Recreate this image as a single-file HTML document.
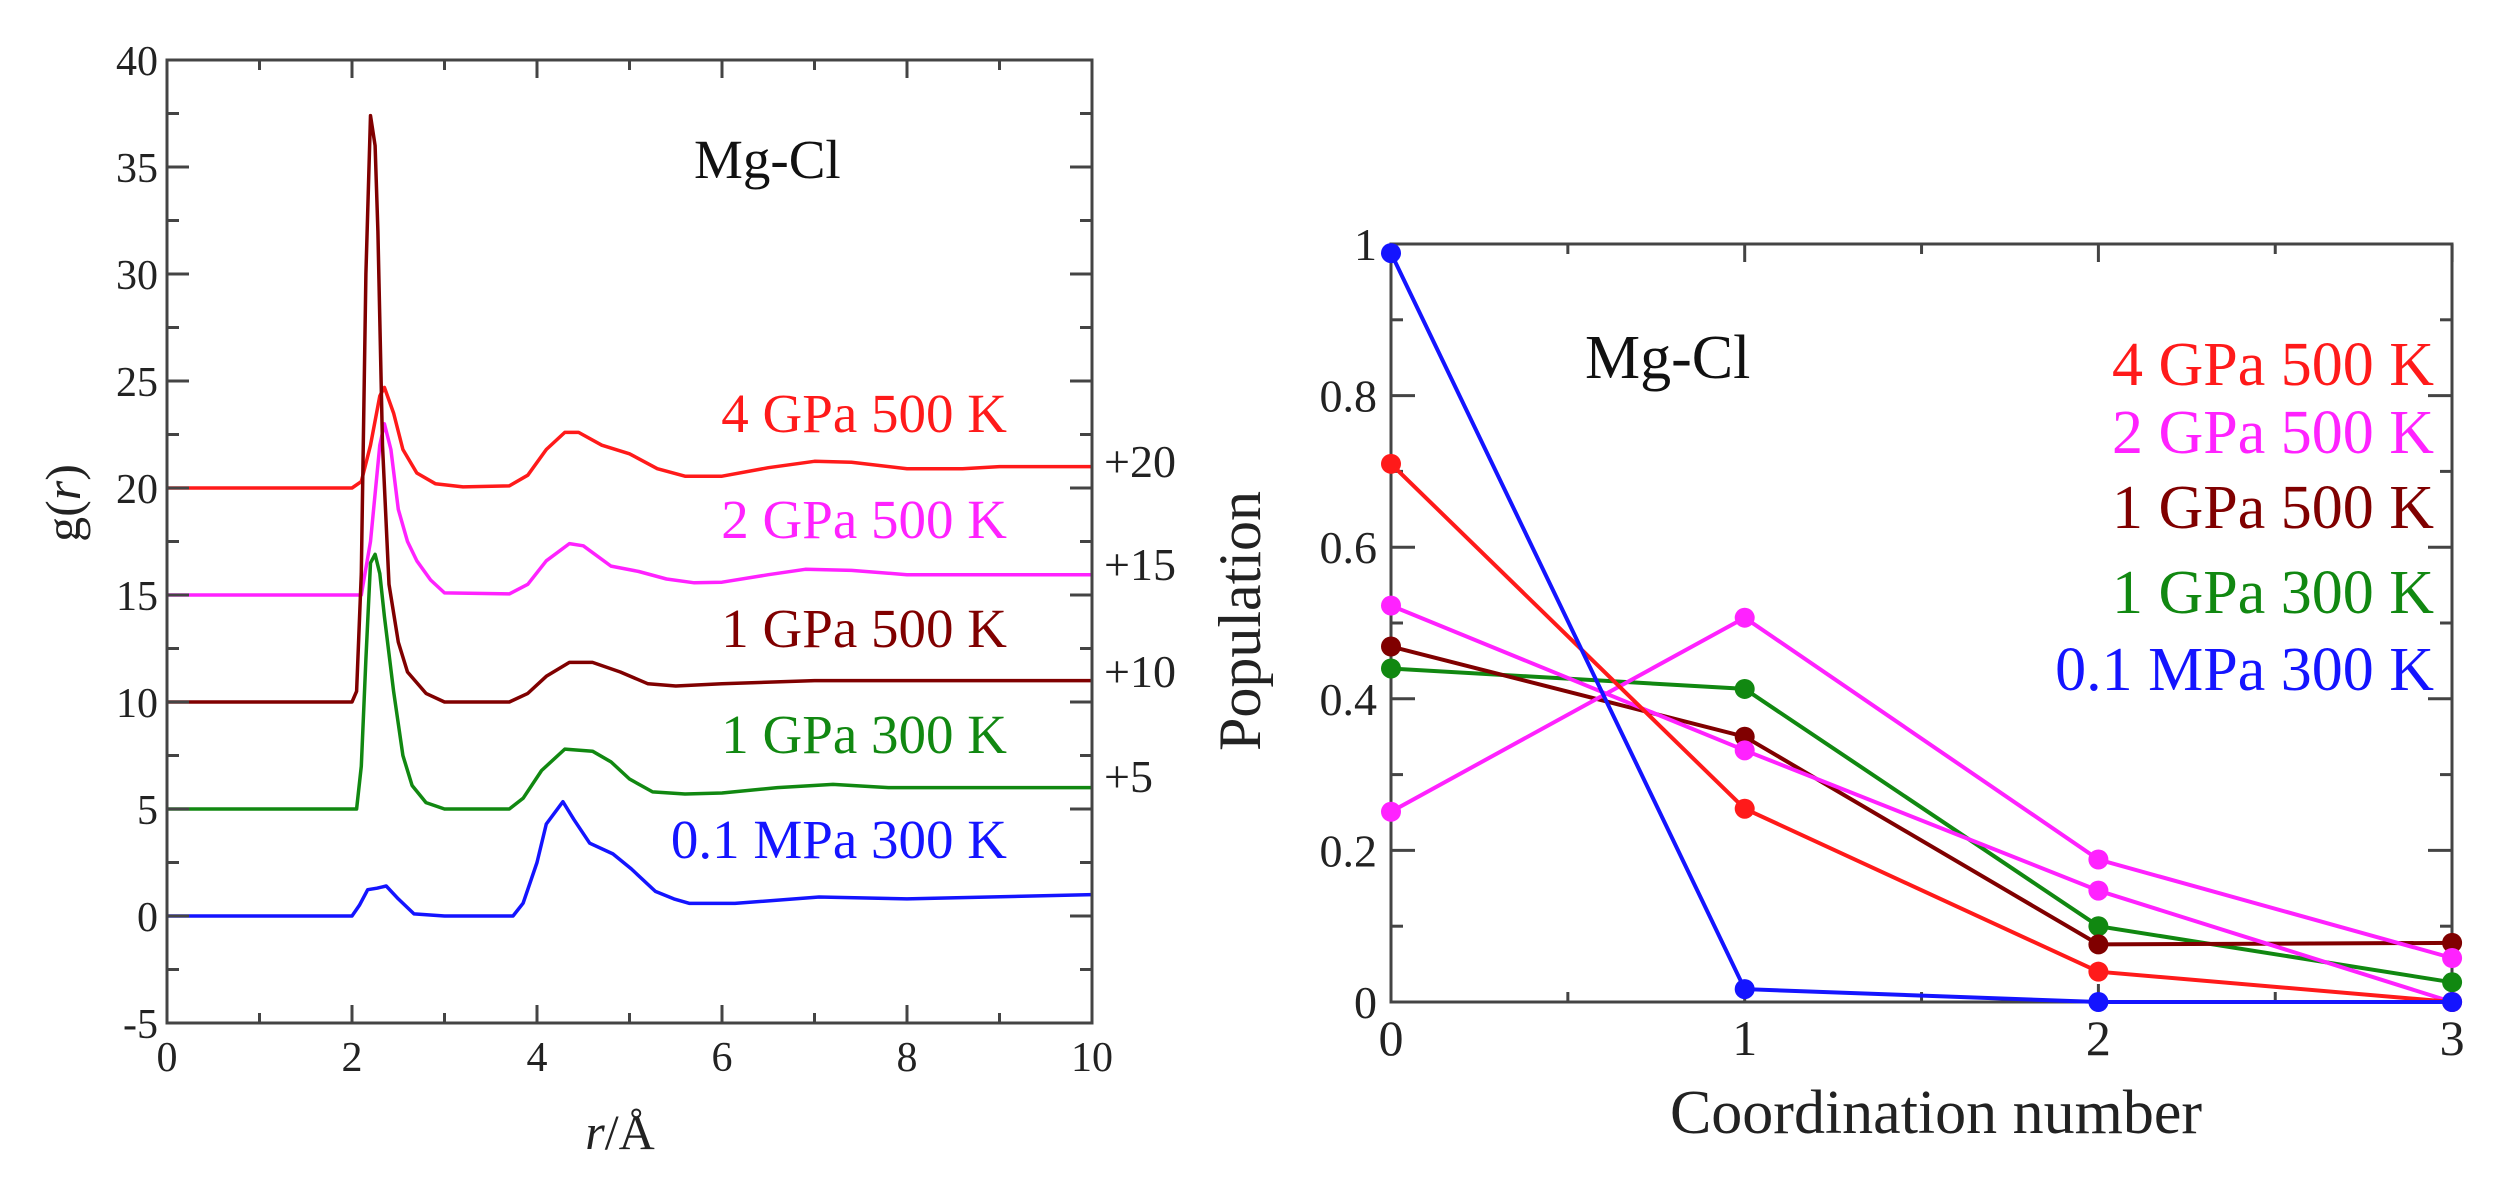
<!DOCTYPE html>
<html><head><meta charset="utf-8"><style>
html,body{margin:0;padding:0;background:#fff;}
svg{display:block;font-family:"Liberation Serif",serif;}
</style></head><body>
<svg id="fig" width="2510" height="1186" viewBox="0 0 2510 1186" xmlns="http://www.w3.org/2000/svg">
<rect x="0" y="0" width="2510" height="1186" fill="#fff"/>
<g id="left"></g>
<g id="right"></g>
</svg>
<script>
// ---------- Left chart data: g(r) (offset removed) ----------
const redR=[0,2.0,2.1,2.2,2.3,2.35,2.45,2.55,2.7,2.9,3.2,3.7,3.9,4.1,4.3,4.45,4.7,5.0,5.3,5.6,6.0,6.5,7.0,7.4,8.0,8.6,9.0,10];
const redG=[0,0,0.3,2.0,4.3,4.7,3.5,1.8,0.7,0.2,0.05,0.1,0.6,1.8,2.6,2.6,2.0,1.6,0.9,0.55,0.55,0.95,1.25,1.2,0.9,0.9,1.0,1.0];
const magR=[0,2.1,2.2,2.3,2.35,2.42,2.5,2.6,2.7,2.85,3.0,3.7,3.9,4.1,4.35,4.5,4.8,5.1,5.4,5.7,6.0,6.5,6.9,7.4,8.0,8.6,10];
const magG=[0,0,2.5,7.0,8.0,6.8,4.0,2.5,1.6,0.7,0.1,0.05,0.5,1.6,2.4,2.3,1.35,1.1,0.75,0.57,0.6,0.95,1.2,1.15,0.95,0.95,0.95];
const brnR=[0,2.0,2.05,2.1,2.15,2.2,2.25,2.28,2.33,2.4,2.5,2.6,2.8,3.0,3.7,3.9,4.1,4.35,4.6,4.9,5.2,5.5,6.0,7.0,10];
const brnG=[0,0,0.5,6,20,27.4,26,22,12,5.5,2.8,1.4,0.4,0,0,0.4,1.2,1.85,1.85,1.4,0.85,0.75,0.85,1.0,1.0];
const grnR=[0,2.05,2.1,2.15,2.2,2.25,2.3,2.35,2.45,2.55,2.65,2.8,3.0,3.7,3.85,4.05,4.3,4.6,4.8,5.0,5.25,5.6,6.0,6.6,7.2,7.8,10];
const grnG=[0,0,2,7,11.5,11.9,11.0,9,5.5,2.5,1.1,0.3,0,0,0.5,1.8,2.8,2.7,2.2,1.4,0.8,0.7,0.75,1.0,1.15,1.0,1.0];
const bluR=[0,2.0,2.08,2.17,2.27,2.37,2.5,2.67,3.0,3.74,3.85,4.0,4.1,4.28,4.4,4.57,4.82,5.02,5.28,5.48,5.65,6.14,7.05,8.0,10];
const bluG=[0,0,0.5,1.23,1.3,1.4,0.8,0.1,0,0,0.6,2.5,4.3,5.34,4.5,3.4,2.9,2.2,1.15,0.8,0.59,0.59,0.89,0.8,1.0];
const leftOffsets=[20,15,10,5,0];
const leftLabels=["4 GPa 500 K","2 GPa 500 K","1 GPa 500 K","1 GPa 300 K","0.1 MPa 300 K"];
const offsetLabels=["+20","+15","+10","+5"];
const leftYTicks=[-5,0,5,10,15,20,25,30,35,40];
const leftXTicks=[0,2,4,6,8,10];

// ---------- Right chart data: population ----------
const coordNums=[0,1,2,3];
const popRed=[0.71,0.255,0.04,0.0];
const popMagA=[0.523,0.332,0.147,0.0];
const popMagB=[0.251,0.507,0.188,0.058];
const popBrown=[0.469,0.35,0.076,0.078];
const popGreen=[0.44,0.413,0.10,0.026];
const popBlue=[0.988,0.017,0.0,0.0];
const rightLegend=["4 GPa 500 K","2 GPa 500 K","1 GPa 500 K","1 GPa 300 K","0.1 MPa 300 K"];
const rightYTicks=[0,0.2,0.4,0.6,0.8,1];
const rightYLabels=["0","0.2","0.4","0.6","0.8","1"];

const NS="http://www.w3.org/2000/svg";
function mk(parent,tag,attrs,text){const e=document.createElementNS(NS,tag);for(const k in attrs)e.setAttribute(k,attrs[k]);if(text!==undefined)e.textContent=text;parent.appendChild(e);return e;}

const C={red:"#ff1a1a",mag:"#ff22ff",brn:"#800000",grn:"#118811",blu:"#1414ff"};
const AX="#444";

// ---------- Left chart ----------
const L=document.getElementById('left');
const xL=r=>167+r*92.5, yL=v=>916-v*21.4;
const series=[[redR,redG,C.red,'red'],[magR,magG,C.mag,'magenta'],[brnR,brnG,C.brn,'brown'],[grnR,grnG,C.grn,'green'],[bluR,bluG,C.blu,'blue']];
series.forEach((s,i)=>{
  const off=leftOffsets[i];
  const d=s[0].map((r,j)=>(j?'L':'M')+xL(r).toFixed(1)+','+yL(s[1][j]+off).toFixed(1)).join(' ');
  const p=mk(L,'path',{d:d,fill:'none',stroke:s[2],'stroke-width':3.5,'stroke-linejoin':'round'});
  
  
});
// frame
const fr=mk(L,'rect',{x:167,y:60,width:925,height:963,fill:'none',stroke:AX,'stroke-width':3});


for(let v=-5;v<=40;v+=2.5){const maj=(v%5===0),len=maj?22:12;
  mk(L,'line',{x1:167,y1:yL(v),x2:167+len,y2:yL(v),stroke:AX,'stroke-width':3});
  mk(L,'line',{x1:1092,y1:yL(v),x2:1092-len,y2:yL(v),stroke:AX,'stroke-width':3});}
for(let r=0;r<=10;r+=1){const len=(r%2===0)?18:10;
  mk(L,'line',{x1:xL(r),y1:1023,x2:xL(r),y2:1023-len,stroke:AX,'stroke-width':3});
  mk(L,'line',{x1:xL(r),y1:60,x2:xL(r),y2:60+len,stroke:AX,'stroke-width':3});}
leftYTicks.forEach(v=>{const t=mk(L,'text',{x:158,y:yL(v)+15,'font-size':42,'text-anchor':'end',fill:'#222'},String(v));
  
  });
leftXTicks.forEach(r=>{const t=mk(L,'text',{x:xL(r),y:1071,'font-size':42,'text-anchor':'middle',fill:'#222'},String(r));
  
  });
const lcol=[C.red,C.mag,C.brn,C.grn,C.blu];
const lbase=[432,538,647,753,858];
leftLabels.forEach((s,i)=>{const t=mk(L,'text',{x:1007,y:lbase[i],'font-size':55,'text-anchor':'end',fill:lcol[i]},s);
  
  });
const obase=[477,580,687,792];
offsetLabels.forEach((s,i)=>{const t=mk(L,'text',{x:1104,y:obase[i],'font-size':46,fill:'#222'},s);
  
  });
let t1=mk(L,'text',{x:694,y:178,'font-size':55,fill:'#111'},'Mg-Cl');


let t2=mk(L,'text',{x:0,y:0,'font-size':50,'text-anchor':'middle',fill:'#222',transform:'translate(80,503) rotate(-90)'});
t2.innerHTML='<tspan>g(</tspan><tspan font-style="italic">r</tspan><tspan>)</tspan>';


let t3=mk(L,'text',{x:620,y:1149,'font-size':50,'text-anchor':'middle',fill:'#222'});
t3.innerHTML='<tspan font-style="italic">r</tspan><tspan>/Å</tspan>';



// ---------- Right chart ----------
const R=document.getElementById('right');
const xR=c=>1391+c*353.7, yR=p=>1002-p*758;
const fr2=mk(R,'rect',{x:1391,y:244,width:1061,height:758,fill:'none',stroke:AX,'stroke-width':3});


for(let k=0;k<=10;k++){const v=k/10,len=(k%2===0)?24:12;
  mk(R,'line',{x1:1391,y1:yR(v),x2:1391+len,y2:yR(v),stroke:AX,'stroke-width':3});
  mk(R,'line',{x1:2452,y1:yR(v),x2:2452-len,y2:yR(v),stroke:AX,'stroke-width':3});}
for(let k=0;k<=6;k++){const c=k/2,len=(k%2===0)?18:10;
  mk(R,'line',{x1:xR(c),y1:1002,x2:xR(c),y2:1002-len,stroke:AX,'stroke-width':3});
  mk(R,'line',{x1:xR(c),y1:244,x2:xR(c),y2:244+len,stroke:AX,'stroke-width':3});}
const pser=[[popGreen,C.grn,'green'],[popBrown,C.brn,'brown'],[popMagA,C.mag,'magenta-a'],[popMagB,C.mag,'magenta-b'],[popRed,C.red,'red'],[popBlue,C.blu,'blue']];
pser.forEach(s=>{
  const d=coordNums.map((c,j)=>(j?'L':'M')+xR(c).toFixed(1)+','+yR(s[0][j]).toFixed(1)).join(' ');
  const p=mk(R,'path',{d:d,fill:'none',stroke:s[1],'stroke-width':4});
  
  
  coordNums.forEach((c,j)=>{const m=mk(R,'circle',{cx:xR(c),cy:yR(s[0][j]),r:10,fill:s[1]});
    
    });
});
rightYTicks.forEach((v,i)=>{const t=mk(R,'text',{x:1377,y:yR(v)+16,'font-size':46,'text-anchor':'end',fill:'#222'},rightYLabels[i]);
  
  });
coordNums.forEach(c=>{const t=mk(R,'text',{x:xR(c),y:1055,'font-size':50,'text-anchor':'middle',fill:'#222'},String(c));
  
  });
const rbase=[385,453,528,613,690];
rightLegend.forEach((s,i)=>{const t=mk(R,'text',{x:2434,y:rbase[i],'font-size':62,'text-anchor':'end',fill:lcol[i]},s);
  
  });
let t4=mk(R,'text',{x:1585,y:378,'font-size':62,fill:'#111'},'Mg-Cl');


let t5=mk(R,'text',{x:0,y:0,'font-size':60,'text-anchor':'middle',fill:'#222',transform:'translate(1260,621) rotate(-90)'},'Population');


let t6=mk(R,'text',{x:1936,y:1133,'font-size':62,'text-anchor':'middle',fill:'#222'},'Coordination number');


</script>
</body></html>
